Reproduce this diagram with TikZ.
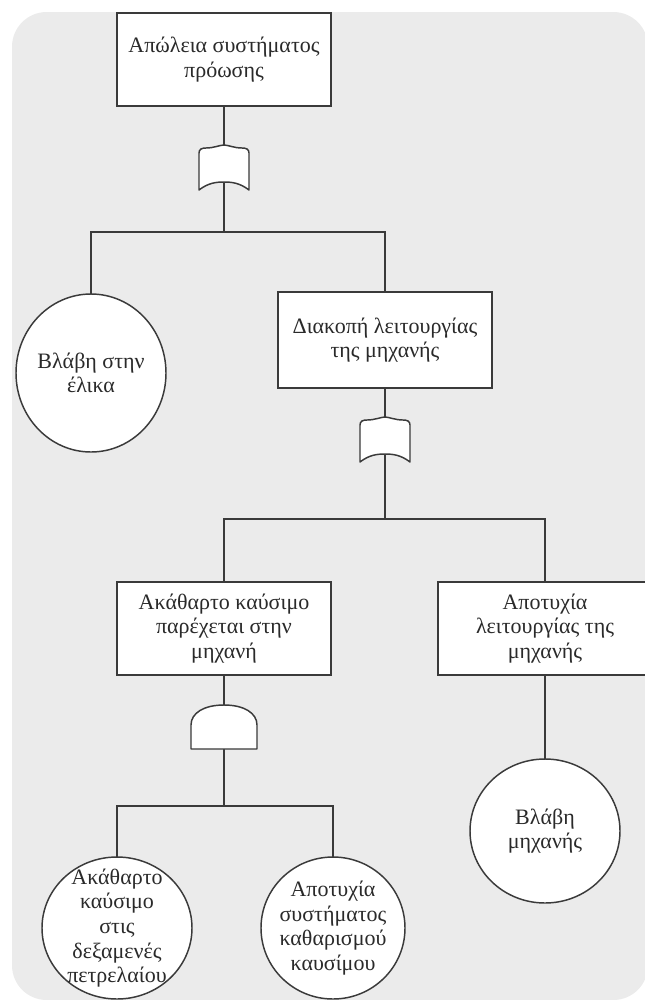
\documentclass[tikz,border=0pt]{standalone}
\usepackage{fontspec}
\setmainfont{Liberation Serif}
\usepackage{xcolor}
\usetikzlibrary{shapes.geometric}
\definecolor{Ink}{HTML}{2A2A2A}
\definecolor{Wire}{HTML}{3A3A3A}
\definecolor{Paper}{HTML}{EBEBEB}

\begin{document}
\begin{tikzpicture}[x=0.75pt,y=-0.75pt,
  evt/.style={draw=Wire,line width=1.1pt,fill=white,text=Ink,align=center,
    font=\fontsize{16.5}{18.5}\selectfont,outer sep=0pt},
  box/.style={evt,rectangle,minimum width=160.5pt,minimum height=70pt,inner sep=2pt},
  basic/.style={evt,ellipse,inner sep=-10pt,minimum width=112.5pt},
  wire/.style={draw=Wire,line width=1.1pt},
  gate/.style={wire,fill=white,line join=round}]
  \useasboundingbox (0,0) rectangle (644,1000);
  \fill[Paper,rounded corners=26pt] (12,12) rectangle (648,1000);
  \node[box] (top) at (224,59.5) {Απώλεια συστήματος\\πρόωσης};
  \node[box,minimum height=72pt] (b2) at (385,340) {Διακοπή λειτουργίας\\της μηχανής};
  \node[box] (b3) at (224,628.5) {Ακάθαρτο καύσιμο\\παρέχεται στην\\μηχανή};
  \node[box] (b4) at (545,628.5) {Αποτυχία\\λειτουργίας της\\μηχανής};
  \node[basic,minimum height=118.5pt] (c1) at (91,373) {Βλάβη στην\\έλικα};
  \node[basic,minimum height=108pt] (c4) at (545,831) {Βλάβη\\μηχανής};
  \node[basic,minimum height=106.5pt] (c5) at (117,928) {Ακάθαρτο\\καύσιμο\\στις\\δεξαμενές\\πετρελαίου};
  \node[basic,minimum width=108pt,minimum height=106.5pt] (c6) at (333,928) {Αποτυχία\\συστήματος\\καθαρισμού\\καυσίμου};
  \coordinate (g1t) at (224,145);
  \coordinate (g1b) at (224,182);
  \coordinate (g2t) at (385,417);
  \coordinate (g2b) at (385,454);
  \coordinate (g3t) at (224,705);
  \coordinate (g3b) at (224,749);
  \coordinate (j1) at (224,232);
  \coordinate (j2) at (385,519);
  \coordinate (j3) at (224,806);
  \draw[wire] (top.south) -- (g1t);
  \draw[wire] (g1b) -- (j1);
  \draw[wire] (c1.north) |- (j1) -| (b2.north);
  \draw[wire] (b2.south) -- (g2t);
  \draw[wire] (g2b) -- (j2);
  \draw[wire] (b3.north) |- (j2) -| (b4.north);
  \draw[wire] (b3.south) -- (g3t);
  \draw[wire] (g3b) -- (j3);
  \draw[wire] (c5.north) |- (j3) -| (c6.north);
  \draw[wire] (b4.south) -- (c4.north);
  \foreach \gx/\gy in {224/145,385/417} {
    \draw[gate,shift={(\gx,\gy)}] (-25,45) -- (-25,8) .. controls (-25,4) and (-22,3) .. (-18,3)
      .. controls (-10,3) and (-4,0) .. (0,0) .. controls (4,0) and (10,3) .. (18,3)
      .. controls (22,3) and (25,4) .. (25,8) -- (25,45) .. controls (16,38) and (8,37) .. (0,37)
      .. controls (-8,37) and (-16,38) .. (-25,45) -- cycle;
  }
  \draw[gate,shift={(224,705)}] (-33,44) -- (-33,20) .. controls (-33,8) and (-20,0) .. (0,0)
    .. controls (20,0) and (33,8) .. (33,20) -- (33,44) -- cycle;
\end{tikzpicture}
\end{document}
